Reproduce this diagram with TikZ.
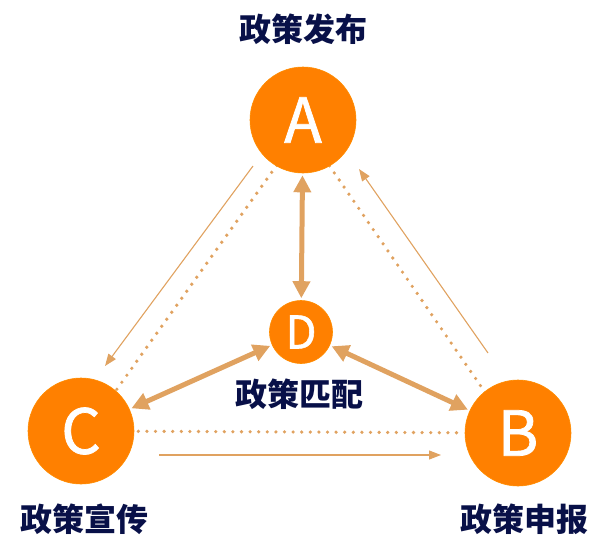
\documentclass[tikz,border=0pt]{standalone}
\usepackage{fontspec}
\setmainfont{Noto Sans CJK SC}
\newfontfamily\cjk{Noto Sans CJK SC}
\newfontfamily\lettr[FakeBold=1.2]{Noto Sans CJK SC}
\usetikzlibrary{arrows.meta,backgrounds}
\definecolor{orng}{RGB}{255,128,0}
\definecolor{tan}{RGB}{224,162,96}
\definecolor{navy}{RGB}{8,16,72}

\begin{document}
\begin{tikzpicture}[x=1pt,y=-1pt,
    stage/.style={circle,fill=orng,draw=orng!90!yellow,line width=0.6pt,inner sep=0pt,
      text=white,font=\lettr\fontsize{62}{62}\selectfont},
    tag/.style={text=navy,font=\cjk\bfseries\fontsize{32}{32}\selectfont},
    link/.style={tan,line width=5pt,{Triangle[length=17pt,width=17pt]}-{Triangle[length=17pt,width=17pt]},shorten <=2pt,shorten >=2pt},
    flow/.style={tan,line width=1.1pt,-{Triangle[length=12pt,width=9pt]}},
    dots/.style={tan,line width=3.6pt,line cap=round,dash pattern=on 0pt off 8.6pt,shorten <=4pt,shorten >=4pt}]
  \useasboundingbox (0,0) rectangle (609,552);
  % stages
  \node[stage,minimum size=106pt] (A) at (303,120) {A};
  \node[stage,minimum size=106pt] (B) at (518,433) {B};
  \node[stage,minimum size=106pt] (C) at (81,431) {C};
  \node[stage,minimum size=63pt,font=\lettr\fontsize{45}{45}\selectfont] (D) at (301,332) {D};
  % labels
  \node[tag] (tA) at (303,29) {政策发布};
  \node[tag] (tB) at (524,519) {政策申报};
  \node[tag] (tC) at (84,519) {政策宣传};
  \node[tag] (tD) at (299,394) {政策匹配};
  % dotted edges, behind the circles
  \begin{scope}[on background layer]
    \draw[dots] ([xshift=6pt]A.center) -- ([xshift=6pt]C.center);
    \draw[dots] ([xshift=-5pt]A.center) -- ([xshift=-5pt]B.center);
    \draw[dots] (C) -- (B);
  \end{scope}
  % matching arrows
  \draw[link] (A) -- (D);
  \draw[link] (C) -- (D);
  \draw[link] (B) -- (D);
  % outer flow
  \coordinate (a1) at (253,166);
  \coordinate (c1) at (105,366);
  \coordinate (c2) at (159,455);
  \coordinate (b1) at (441,455);
  \coordinate (b2) at (488,353);
  \coordinate (a2) at (359,169);
  \draw[flow] (a1) -- (c1);
  \draw[flow] (c2) -- (b1);
  \draw[flow] (b2) -- (a2);
\end{tikzpicture}
\end{document}
